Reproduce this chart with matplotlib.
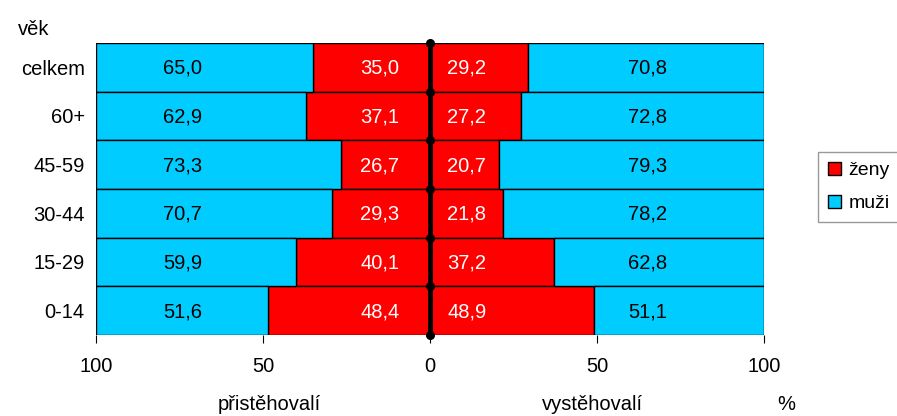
import numpy as np
import matplotlib
matplotlib.use('Agg')
import matplotlib.pyplot as plt

plt.rcParams['font.family'] = ['Liberation Sans', 'DejaVu Sans']

# data (percent)
ages = ['celkem', '60+', '45-59', '30-44', '15-29', '0-14']
prist_zeny = [35.0, 37.1, 26.7, 29.3, 40.1, 48.4]
prist_muzi = [65.0, 62.9, 73.3, 70.7, 59.9, 51.6]
vyst_zeny = [29.2, 27.2, 20.7, 21.8, 37.2, 48.9]
vyst_muzi = [70.8, 72.8, 79.3, 78.2, 62.8, 51.1]

RED = '#ff0000'
CYAN = '#00ccff'
FS = 14.5

fig = plt.figure(figsize=(8.97, 4.16), dpi=100)
ax = fig.add_axes([0.107, 0.195, 0.745, 0.702])

y = np.arange(len(ages))[::-1]
pz = np.array(prist_zeny)
pm = np.array(prist_muzi)
vz = np.array(vyst_zeny)
vm = np.array(vyst_muzi)

kw = dict(height=1.0, edgecolor='black', linewidth=1)
ax.barh(y, -pz, color=RED, **kw)
ax.barh(y, -pm, left=-pz, color=CYAN, **kw)
ax.barh(y, vz, color=RED, label='ženy', **kw)
ax.barh(y, vm, left=vz, color=CYAN, label='muži', **kw)

def lab(x, yy, v, fc, tc):
    ax.text(x, yy - 0.02, f'{v:.1f}'.replace('.', ','), ha='center', va='center',
            fontsize=FS, color=tc, zorder=5,
            bbox=dict(boxstyle='square,pad=0.3', fc=fc, ec='none'))

for i in range(len(ages)):
    lab(-74, y[i], pm[i], CYAN, 'black')
    lab(-15, y[i], pz[i], RED, 'white')
    lab(11, y[i], vz[i], RED, 'white')
    lab(65, y[i], vm[i], CYAN, 'black')

# center axis with dots
bounds = np.arange(len(ages) + 1) - 0.5
ax.plot([0, 0], [bounds[0], bounds[-1]], color='black', lw=3.5, zorder=6, solid_capstyle='butt')
ax.plot(np.zeros_like(bounds), bounds, 'o', color='black', ms=5.5, zorder=6, clip_on=False)

ax.set_xlim(-100, 100)
ax.set_ylim(-0.5, len(ages) - 0.5)
ax.set_xticks([-100, -50, 0, 50, 100])
ax.set_xticklabels(['100', '50', '0', '50', '100'], fontsize=FS)
ax.set_yticks(y)
ax.set_yticklabels(ages, fontsize=FS)
ax.tick_params(axis='y', length=0, pad=8)
ax.tick_params(axis='x', length=6, direction='out', pad=10)
for s in ['top', 'right', 'left', 'bottom']:
    ax.spines[s].set_visible(False)

fig.text(0.02, 0.915, 'věk', fontsize=FS)
fig.text(0.30, 0.015, 'přistěhovalí', fontsize=FS, ha='center')
fig.text(0.66, 0.015, 'vystěhovalí', fontsize=FS, ha='center')
fig.text(0.877, 0.015, '%', fontsize=FS, ha='center')

leg = fig.legend(loc='upper left', bbox_to_anchor=(0.912, 0.635), frameon=True, fontsize=14,
                 handlelength=0.7, handleheight=0.7, handletextpad=0.35, fancybox=False,
                 borderpad=0.5, labelspacing=0.8, borderaxespad=0)
leg.get_frame().set_edgecolor('#808080')
leg.get_frame().set_linewidth(1)

fig.savefig('out.png', dpi=100)
